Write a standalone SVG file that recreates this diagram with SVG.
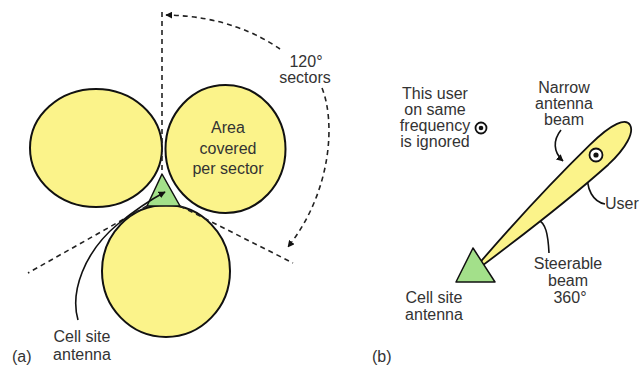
<svg xmlns="http://www.w3.org/2000/svg" width="640" height="367" viewBox="0 0 640 367">
<defs>
<style>
.t{font-family:"Liberation Sans",Arial,sans-serif;font-size:16px;fill:#333;text-anchor:middle}
.tl{font-family:"Liberation Sans",Arial,sans-serif;font-size:16px;fill:#333}
.lobe{fill:#fbf38a;stroke:#111;stroke-width:2}
.ant{fill:#a3e08a;stroke:#111;stroke-width:1.5;stroke-linejoin:round}
.dash{fill:none;stroke:#222;stroke-width:1.6;stroke-dasharray:5 4}
.lead{fill:none;stroke:#111;stroke-width:1.6}
</style>
<marker id="ah" viewBox="0 0 10 10" refX="9" refY="5" markerWidth="7" markerHeight="7" orient="auto" markerUnits="userSpaceOnUse">
<path d="M0,0 L10,5 L0,10 Z" fill="#111"/>
</marker>
</defs>
<rect width="640" height="367" fill="#fff"/>

<g id="panel-a">
<g id="lobe-left"><ellipse class="lobe" cx="96" cy="148" rx="66" ry="59"/></g>
<g id="lobe-right"><ellipse class="lobe" cx="225.5" cy="149" rx="60" ry="64"/>
<text class="t" x="228" y="133">Area</text>
<text class="t" x="228" y="154">covered</text>
<text class="t" x="228" y="174">per sector</text></g>
<g id="lobe-bottom"><ellipse class="lobe" cx="166" cy="271" rx="64" ry="66"/></g>
<g id="antenna-a"><polygon class="ant" points="162,174 147,206 180,206"/></g>
</g>

<g id="connectors">
<path class="dash" d="M162,12 L162,174"/>
<path class="dash" d="M147,206 L28,273"/>
<path class="dash" d="M180,206 L293,263"/>
<path class="dash" d="M280,49 C258,34 222,16 166,15" marker-end="url(#ah)"/>
<path class="dash" d="M322,88 C335,120 333,190 288,247" marker-end="url(#ah)"/>
<path class="lead" d="M78,320 C70,292 84,252 118,224 C134,211 150,200 165,192" marker-end="url(#ah)"/>
<path class="lead" d="M561,130 C553,140 553,152 563,161" marker-end="url(#ah)"/>
<path class="lead" d="M605,204 C594,202 585,190 588,170" marker-end="url(#ah)"/>
<path class="lead" d="M549,253 C548,234 546,223 537,219"/>
</g>

<g id="label-120"><text class="t" x="306" y="67">120°</text><text class="t" x="305" y="83">sectors</text></g>
<g id="label-cellsite-a"><text class="t" x="82" y="342">Cell site</text><text class="t" x="82" y="360">antenna</text></g>
<g id="label-a"><text class="tl" x="12" y="362">(a)</text></g>

<g id="panel-b">
<g id="beam"><path d="M0,-1.5 C60,-8 120,-12 165,-13 C197,-14 210,-8 208,0 C206,8 190,14 165,14 C120,13 60,8 0,1.5 Z" transform="translate(478,267) rotate(-43)" fill="#fbf38a" stroke="#111" stroke-width="1.8"/></g>
<g id="antenna-b"><polygon class="ant" points="473,248 456,282 495,282"/></g>
<g id="user"><circle cx="596" cy="155" r="6.5" fill="#fff" stroke="#111" stroke-width="1.8"/><circle cx="596" cy="155" r="2.6" fill="#111"/></g>
<g id="ignored-user"><circle cx="481" cy="128" r="5.5" fill="#fff" stroke="#111" stroke-width="1.8"/><circle cx="481" cy="128" r="2.3" fill="#111"/></g>
<g id="label-ignored"><text class="t" x="435" y="99">This user</text><text class="t" x="435" y="115">on same</text><text class="t" x="435" y="131">frequency</text><text class="t" x="435" y="147">is ignored</text></g>
<g id="label-narrow"><text class="t" x="564" y="93">Narrow</text><text class="t" x="564" y="109">antenna</text><text class="t" x="564" y="125">beam</text></g>
<g id="label-user"><text class="tl" x="605" y="209">User</text></g>
<g id="label-steer"><text class="t" x="568" y="269">Steerable</text><text class="t" x="568" y="286">beam</text><text class="t" x="570" y="303">360°</text></g>
<g id="label-cellsite-b"><text class="t" x="434" y="303">Cell site</text><text class="t" x="434" y="320">antenna</text></g>
<g id="label-b"><text class="tl" x="372" y="362">(b)</text></g>
</g>
</svg>
